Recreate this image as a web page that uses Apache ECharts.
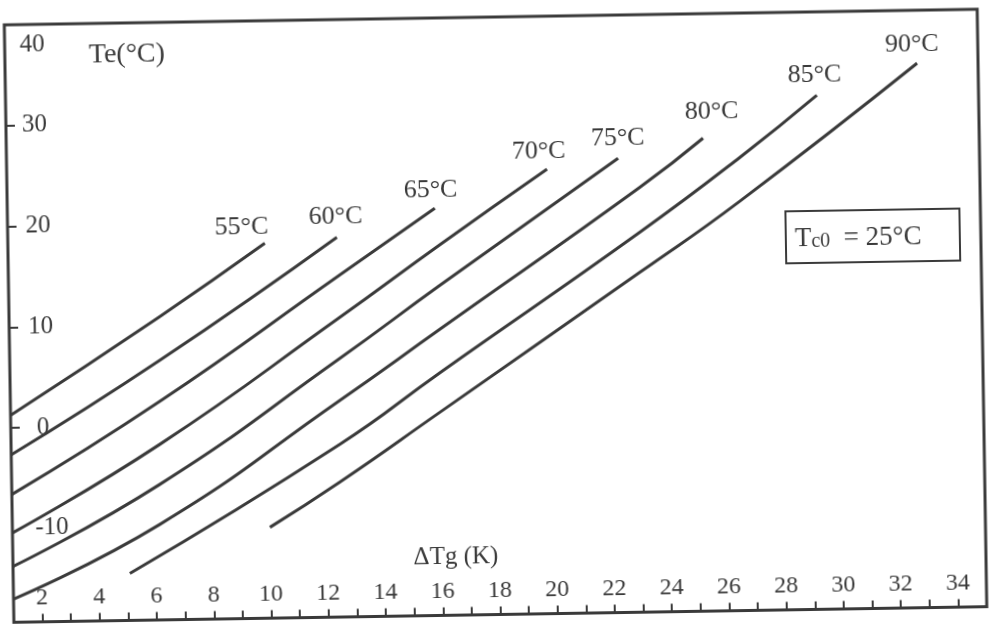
<!DOCTYPE html>
<html>
<head>
<meta charset="utf-8">
<script src="https://cdn.jsdelivr.net/npm/echarts@6/dist/echarts.min.js"></script>
<style>
html, body { margin: 0; padding: 0; background: #ffffff; overflow: hidden; }
#chart { width: 994px; height: 627px; transform: rotate(-0.92deg); transform-origin: 50% 50%; }
</style>
</head>
<body>
<div id="chart"></div>
<script>
// ---- data (x = ΔTg in K, y = Te in °C) ----
const curveNames = ['55°C', '60°C', '65°C', '70°C', '75°C', '80°C', '85°C', '90°C'];
const curve55 = [[1, 1.25], [6.28, 10.83], [9.98, 17.91]];
const curve60 = [[1, -2.68], [6.25, 6.47], [12.5, 18.39]];
const curve65 = [[1, -6.61], [6.23, 2.40], [12.59, 14.67], [15.94, 21.12]];
const curve70 = [[1, -10.43], [6.2, -1.87], [12.56, 10.45], [16.1, 17.5], [19.88, 24.81]];
const curve75 = [[1, -13.76], [6.18, -5.84], [12.54, 6.38], [16.08, 13.47], [22.37, 25.79]];
const curve80 = [[1, -17.0], [6.16, -9.81], [12.52, 2.21], [16.05, 9.10], [23.12, 22.87], [25.35, 27.64]];
const curve85 = [[5.08, -14.63], [12.49, -2.15], [16.03, 4.8], [23.09, 18.41], [26.63, 25.69], [29.35, 31.73]];
const curve90 = [[10.0, -10.28], [12.47, -5.9], [16.0, 0.86], [23.07, 14.44], [26.6, 21.33], [32.87, 34.74]];
const curves = [curve55, curve60, curve65, curve70, curve75, curve80, curve85, curve90];

const xTickValues = [2, 3, 4, 5, 6, 7, 8, 9, 10, 11, 12, 13, 14, 15, 16, 17, 18, 19, 20, 21, 22, 23, 24, 25, 26, 27, 28, 29, 30, 31, 32, 33, 34];
const xLabelValues = [2, 4, 6, 8, 10, 12, 14, 16, 18, 20, 22, 24, 26, 28, 30, 32, 34];
const yTickValues = [0, 10, 20, 30];
const yLabelValues = [-10, 0, 10, 20, 30, 40];
const boxText = ['T', 'c0', '  = 25°C'];

// ---- styles ----
const INK = '#3a3a3a';
const SERIF = "'Liberation Serif', 'DejaVu Serif', serif";
const labelOffsets = [[-23, 2], [-1, -3], [-4, 0], [-8, 0], [0, -2], [9, -8], [-2, -2], [-5, -1]];
const yLabelPadLeft = { '40': 0, '30': 1, '20': 3, '10': 4, '0': 11, '-10': 8 };

const yRich = {};
yLabelValues.forEach(v => {
  const key = 'v' + String(v).replace('-', 'm');
  yRich[key] = {
    fontSize: 25, fontFamily: SERIF, color: INK,
    padding: [0, 0, 0, yLabelPadLeft[String(v)]]
  };
  if (v === 40) { yRich[key].lineHeight = 66; yRich[key].verticalAlign = 'bottom'; }
});

const series = curves.map((pts, i) => ({
  type: 'line',
  name: curveNames[i],
  smooth: 0.5,
  symbol: 'circle',
  symbolSize: 0,
  showSymbol: true,
  silent: true,
  lineStyle: { color: INK, width: 3 },
  itemStyle: { color: INK },
  label: { show: false },
  emphasis: { disabled: true },
  data: pts.map((p, j) => j === pts.length - 1 ? {
    value: p,
    label: {
      show: true, position: 'top', distance: 5,
      offset: labelOffsets[i],
      formatter: curveNames[i],
      fontSize: 26, fontFamily: SERIF, color: INK
    }
  } : p)
}));

const chart = echarts.init(document.getElementById('chart'), null, { renderer: 'canvas' });
chart.setOption({
  animation: false,
  backgroundColor: '#ffffff',
  grid: {
    left: 9, right: 12, top: 17, bottom: 12.5,
    show: true, borderColor: INK, borderWidth: 3, backgroundColor: 'transparent',
    outerBoundsMode: 'none'
  },
  xAxis: {
    type: 'value', min: 1, max: 35, position: 'bottom',
    name: 'ΔTg (K)', nameLocation: 'middle', nameGap: -58,
    nameTextStyle: { fontSize: 25, fontFamily: SERIF, color: INK, align: 'center', verticalAlign: 'middle', padding: [0, 87, 0, 0] },
    splitLine: { show: false },
    axisLine: { show: false, onZero: false },
    axisTick: { show: true, inside: true, length: 8, customValues: xTickValues, lineStyle: { color: INK, width: 2 } },
    axisLabel: { show: true, inside: true, margin: 12, customValues: xLabelValues, fontSize: 24, fontFamily: SERIF, color: INK }
  },
  yAxis: {
    type: 'value', min: -19.3, max: 40, position: 'left',
    name: 'Te(°C)', nameLocation: 'end', nameGap: -32,
    nameTextStyle: { fontSize: 28, fontFamily: SERIF, color: INK, align: 'left', verticalAlign: 'middle', padding: [0, 0, 0, 84] },
    splitLine: { show: false },
    axisLine: { show: false, onZero: false },
    axisTick: { show: true, inside: true, length: 9, customValues: yTickValues, lineStyle: { color: INK, width: 2 } },
    axisLabel: {
      show: true, inside: true, margin: 15, customValues: yLabelValues,
      fontSize: 25, fontFamily: SERIF, color: INK,
      formatter: v => '{v' + String(v).replace('-', 'm') + '|' + v + '}',
      rich: yRich
    }
  },
  graphic: [
    { type: 'rect', shape: { x: 787, y: 216, width: 174, height: 52 }, style: { fill: 'none', stroke: INK, lineWidth: 2 }, silent: true },
    {
      type: 'text', x: 796, y: 242, silent: true,
      style: {
        text: '{a|' + boxText[0] + '}{b|' + boxText[1] + '}{a|' + boxText[2] + '}',
        verticalAlign: 'middle', align: 'left',
        rich: {
          a: { fontSize: 27, fontFamily: SERIF, fill: INK, color: INK, verticalAlign: 'bottom', lineHeight: 30 },
          b: { fontSize: 20, fontFamily: SERIF, fill: INK, color: INK, verticalAlign: 'bottom', lineHeight: 30 }
        }
      }
    }
  ],
  series: series
});
</script>
</body>
</html>
